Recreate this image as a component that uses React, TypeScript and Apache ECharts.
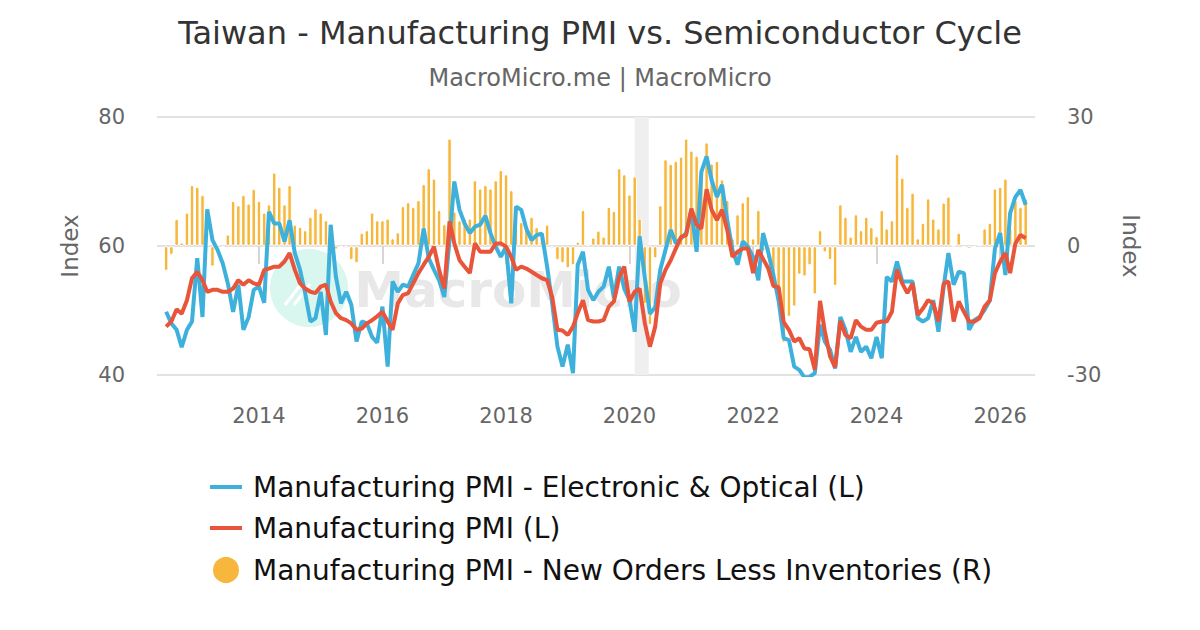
import React, { useEffect, useRef } from "react";
import * as echarts from "echarts";

// First month of the monthly series (Taiwan PMI starts July 2012)
const firstMonth = { year: 2012, month: 7 };

const seriesNames = [
  "Manufacturing PMI - Electronic & Optical (L)",
  "Manufacturing PMI (L)",
  "Manufacturing PMI - New Orders Less Inventories (R)",
];

// Manufacturing PMI - Electronic & Optical (left axis)
const electronicOptical: number[] = [
  49.8, 48.0, 47.0, 44.3, 47.0, 48.3, 58.1, 49.0, 65.7, 60.9, 59.4, 57.3, 54.2, 49.8, 54.0, 47.0, 49.0, 53.2, 53.7, 51.2, 65.3, 63.5, 63.5, 60.7, 64.0, 58.9, 56.3,
  52.7, 48.3, 48.8, 52.9, 46.2, 63.3, 55.2, 51.1, 52.9, 50.9, 45.2, 48.3, 48.0, 45.9, 45.0, 50.6, 41.3, 54.5, 52.9, 54.0, 53.7, 55.5, 57.3, 62.7, 58.1, 56.3, 54.7, 52.1,
  61.0,
  70.0, 65.6, 63.5, 62.0, 63.0, 63.3, 64.7, 62.0, 59.9, 58.3, 59.9, 51.1, 66.1, 65.6, 62.7, 60.9, 61.7, 61.9, 56.8, 51.1, 44.4, 41.3, 44.7, 40.3, 57.1, 59.1, 53.2, 51.6,
  52.9, 53.7, 56.8, 51.9, 56.8, 53.4, 51.6, 46.7, 61.5, 55.0, 49.5, 50.5, 56.3, 59.4, 62.5, 60.4, 61.2, 62.0, 65.6, 59.1, 71.5, 73.9, 70.2, 67.6, 69.5, 64.0, 59.4, 57.1,
  60.7, 59.9, 58.3, 54.7, 62.0, 59.0, 55.5, 51.5, 45.7, 45.4, 41.3, 40.8, 39.6, 39.7, 40.3, 47.8, 45.2, 43.9, 41.0, 49.0, 47.0, 43.6, 45.9, 43.6, 44.4, 42.6, 45.9, 42.6,
  55.2, 54.5, 57.6, 54.5, 54.5, 54.5, 48.8, 48.3, 48.8, 51.6, 46.7, 53.7, 58.9, 54.0, 56.0, 55.8, 47.0, 48.5, 49.0, 50.1, 51.6, 59.6, 62.0, 55.5, 65.1, 67.6, 68.7, 66.4,
];

// Manufacturing PMI (left axis)
const manufacturingPmi: number[] = [
  47.5, 48.3, 50.2, 49.5, 51.6, 55.0, 56.0, 54.7, 52.9, 53.2, 53.2, 52.9, 52.9, 53.4, 54.7, 54.0, 54.7, 54.2, 54.0, 56.3, 56.5, 56.8, 56.8, 57.6, 58.9, 56.3, 54.2,
  53.4, 52.9, 52.7, 53.7, 54.0, 51.4, 49.6, 48.8, 48.5, 48.0, 47.0, 47.2, 48.0, 48.5, 49.1, 49.8, 48.3, 47.0, 51.1, 52.4, 52.7, 54.2, 55.8, 57.1, 58.3, 59.9, 56.3, 53.4,
  63.8,
  60.4, 57.8, 56.8, 55.8, 60.4, 59.1, 59.1, 59.1, 60.4, 60.4, 59.9, 58.3, 56.3, 56.8, 56.5, 56.0, 55.5, 55.0, 54.7, 52.1, 47.0, 46.9, 46.2, 47.5, 49.6, 51.6, 48.5, 48.3,
  48.3, 48.5, 50.6, 51.4, 55.2, 56.8, 51.4, 52.9, 53.4, 48.0, 44.4, 47.5, 54.2, 56.3, 57.8, 59.6, 61.4, 61.7, 65.8, 63.3, 62.7, 68.8, 65.6, 64.0, 65.6, 62.5, 58.3, 59.1,
  59.6, 59.6, 55.8, 59.4, 58.0, 56.5, 53.8, 53.6, 48.2, 47.0, 45.2, 45.7, 44.1, 44.0, 40.8, 51.5, 46.8, 42.9, 41.2, 48.4, 46.2, 45.7, 48.5, 47.5, 47.0, 47.0, 48.1, 48.3,
  48.3, 49.8, 56.3, 54.2, 52.7, 54.2, 49.3, 50.3, 51.6, 51.1, 48.3, 54.2, 54.5, 48.3, 51.4, 49.8, 48.3, 48.3, 48.8, 50.6, 51.6, 55.8, 57.6, 58.9, 55.8, 60.4, 61.7, 61.2,
];

// Manufacturing PMI - New Orders Less Inventories (right axis)
const newOrdersLessInventories: number[] = [
  -5.8, -2.1, 6.3, 0.8, 7.8, 14.2, 13.8, 11.9, 0.2, -4.8, 0.3, -0.3, 2.7, 10.5, 9.5, 11.9, 9.9, 13.3, 10.5, 7.8, 9.7, 17.1, 13.8, 9.7, 14.2, 5.0, 4.5,
  3.7, 6.8, 8.8, 7.8, 6.0, 4.1, -0.8, -0.3, -0.5, -3.3, -4.0, 3.1, 3.7, 7.8, 6.0, 6.0, 6.4, 1.8, 3.2, 9.3, 10.2, 9.1, 10.7, 14.4, 18.1, 15.7, 8.4, 5.1,
  25.0, 8.0,
  6.0, 6.4, 6.4, 15.3, 13.4, 14.2, 13.4, 15.3, 17.7, 16.7, 13.0, 4.1, 5.6, 4.4, 6.8, 4.4, 2.9, 5.0, -0.5, -3.3, -4.0, -5.2, -4.5, 1.0, 8.4, 0.5, 2.0,
  3.6, 2.2, 9.1, 8.2, 18.1, 16.7, 12.0, 16.2, 6.4, -13.5, -18.4, -2.9, 9.5, 20.2, 19.1, 19.8, 20.8, 25.0, 22.2, 21.0, 17.7, 24.1, 19.2, 19.8, 15.5, 10.7, 1.8, 7.4,
  10.2, 11.6, 1.8, 8.4, -1.3, -3.0, -7.0, -14.0, -22.5, -16.5, -14.1, -6.7, -7.1, -4.5, -11.3, 3.7, -1.5, -3.3, -9.3, 9.7, 6.8, 2.2, 7.4, 3.7, 6.8, 4.4, 2.3, 8.4,
  4.1, 6.0, 21.4, 15.9, 9.1, 12.4, 1.8, 5.4, 11.1, 6.4, 4.1, 10.1, 11.5, 0.1, 3.1, -0.3, -0.6, -0.2, 0.2, 4.1, 5.4, 13.4, 13.8, 15.7, 4.1, 10.7, 9.1, 11.1,
];

const yearTicks = [2014, 2016, 2018, 2020, 2022, 2024, 2026];
const leftAxisRange = { min: 40, max: 80, interval: 20 };
const rightAxisRange = { min: -30, max: 30, interval: 30 };
const xRange = ["2012-05-08", "2026-07-26"];
const recessionBand = ["2020-02-01", "2020-04-24"];

const FONT = "DejaVu Sans";
const LINE_ICON = "path://M0,0H32V4H0Z";

export default function App() {
  const ref = useRef<HTMLDivElement>(null);

  useEffect(() => {
    if (!ref.current) return;
    const chart = echarts.init(ref.current, undefined, { renderer: "svg" });

    const months = electronicOptical.map((_, i) =>
      Date.UTC(firstMonth.year, firstMonth.month - 1 + i, 1)
    );
    const tickTimes = yearTicks.map((y) => Date.UTC(y, 0, 1));

    chart.setOption({
      animation: false,
      backgroundColor: "#ffffff",
      textStyle: { fontFamily: FONT },
      title: {
        text: "Taiwan - Manufacturing PMI vs. Semiconductor Cycle",
        subtext: "MacroMicro.me | MacroMicro",
        left: "center",
        top: 12,
        itemGap: 17,
        textStyle: { fontSize: 32, color: "#333333", fontWeight: "normal", fontFamily: FONT },
        subtextStyle: { fontSize: 24, color: "#666666", fontFamily: FONT },
      },
      graphic: [
        {
          type: "circle",
          silent: true,
          z: 0,
          shape: { cx: 309, cy: 288, r: 39 },
          style: { fill: "#d9f6ef" },
        },
        {
          type: "line",
          silent: true,
          z: 0,
          shape: { x1: 285, y1: 305, x2: 301, y2: 284 },
          style: { stroke: "#ffffff", lineWidth: 3 },
        },
        {
          type: "line",
          silent: true,
          z: 0,
          shape: { x1: 294, y1: 305, x2: 310, y2: 284 },
          style: { stroke: "#ffffff", lineWidth: 3 },
        },
        {
          type: "text",
          silent: true,
          z: 0,
          x: 518,
          y: 290,
          style: {
            text: "MacroMicro",
            fontSize: 50,
            fontWeight: "bold",
            fontFamily: FONT,
            fill: "#e8e8e8",
            align: "center",
            verticalAlign: "middle",
          },
        },
      ],
      legend: {
        orient: "vertical",
        left: 205,
        top: 468,
        itemWidth: 32,
        itemHeight: 28,
        itemGap: 13,
        data: [
          { name: seriesNames[0], icon: LINE_ICON },
          { name: seriesNames[1], icon: LINE_ICON },
          { name: seriesNames[2], icon: "circle" },
        ],
        textStyle: { fontSize: 28, color: "#111111", fontFamily: FONT, padding: [0, 0, 0, 6] },
      },
      grid: { left: 157, right: 165, top: 117, bottom: 255, containLabel: false },
      xAxis: {
        type: "value",
        min: Date.parse(xRange[0]),
        max: Date.parse(xRange[1]),
        axisLine: { show: false },
        splitLine: { show: false },
        axisTick: {
          show: true,
          customValues: tickTimes,
          length: 18,
          lineStyle: { color: "#d6d6d6", width: 2 },
        },
        axisLabel: {
          customValues: tickTimes,
          formatter: (v: number) => String(new Date(v).getUTCFullYear()),
          color: "#666666",
          fontSize: 21,
          margin: 30,
          fontFamily: FONT,
        },
      },
      yAxis: [
        {
          type: "value",
          position: "left",
          ...leftAxisRange,
          name: "Index",
          nameLocation: "middle",
          nameGap: 76,
          nameRotate: 90,
          nameTextStyle: { fontSize: 23, color: "#666666", fontFamily: FONT },
          axisLine: { show: false },
          axisTick: { show: false },
          axisLabel: { fontSize: 21, color: "#666666", margin: 32, fontFamily: FONT },
          splitLine: { lineStyle: { color: "#e2e2e2", width: 2 } },
        },
        {
          type: "value",
          position: "right",
          ...rightAxisRange,
          name: "Index",
          nameLocation: "middle",
          nameGap: 84,
          nameRotate: -90,
          nameTextStyle: { fontSize: 23, color: "#666666", fontFamily: FONT },
          axisLine: { show: false },
          axisTick: { show: false },
          axisLabel: { fontSize: 21, color: "#666666", margin: 32, fontFamily: FONT },
          splitLine: { show: false },
        },
      ],
      series: [
        {
          name: seriesNames[2],
          type: "bar",
          yAxisIndex: 1,
          barWidth: 4.5,
          z: 1,
          data: months.map((t, i) => [t, newOrdersLessInventories[i]]),
          itemStyle: {
            color: "#f6b73c",
            borderColor: "#ffffff",
            borderWidth: 1,
            borderRadius: 2,
          },
          markArea: {
            silent: true,
            itemStyle: { color: "#efefef" },
            data: [[{ xAxis: Date.parse(recessionBand[0]) }, { xAxis: Date.parse(recessionBand[1]) }]],
          },
        },
        {
          name: seriesNames[0],
          type: "line",
          yAxisIndex: 0,
          symbol: "none",
          z: 3,
          data: months.map((t, i) => [t, electronicOptical[i]]),
          lineStyle: { color: "#3db1dc", width: 4 },
          itemStyle: { color: "#3db1dc" },
        },
        {
          name: seriesNames[1],
          type: "line",
          yAxisIndex: 0,
          symbol: "none",
          z: 4,
          data: months.map((t, i) => [t, manufacturingPmi[i]]),
          lineStyle: { color: "#e8553a", width: 4 },
          itemStyle: { color: "#e8553a" },
        },
      ],
    });

    return () => chart.dispose();
  }, []);

  return (
    <div
      ref={ref}
      style={{ position: "fixed", left: 0, top: 0, width: 1200, height: 630, background: "#fff" }}
    />
  );
}
